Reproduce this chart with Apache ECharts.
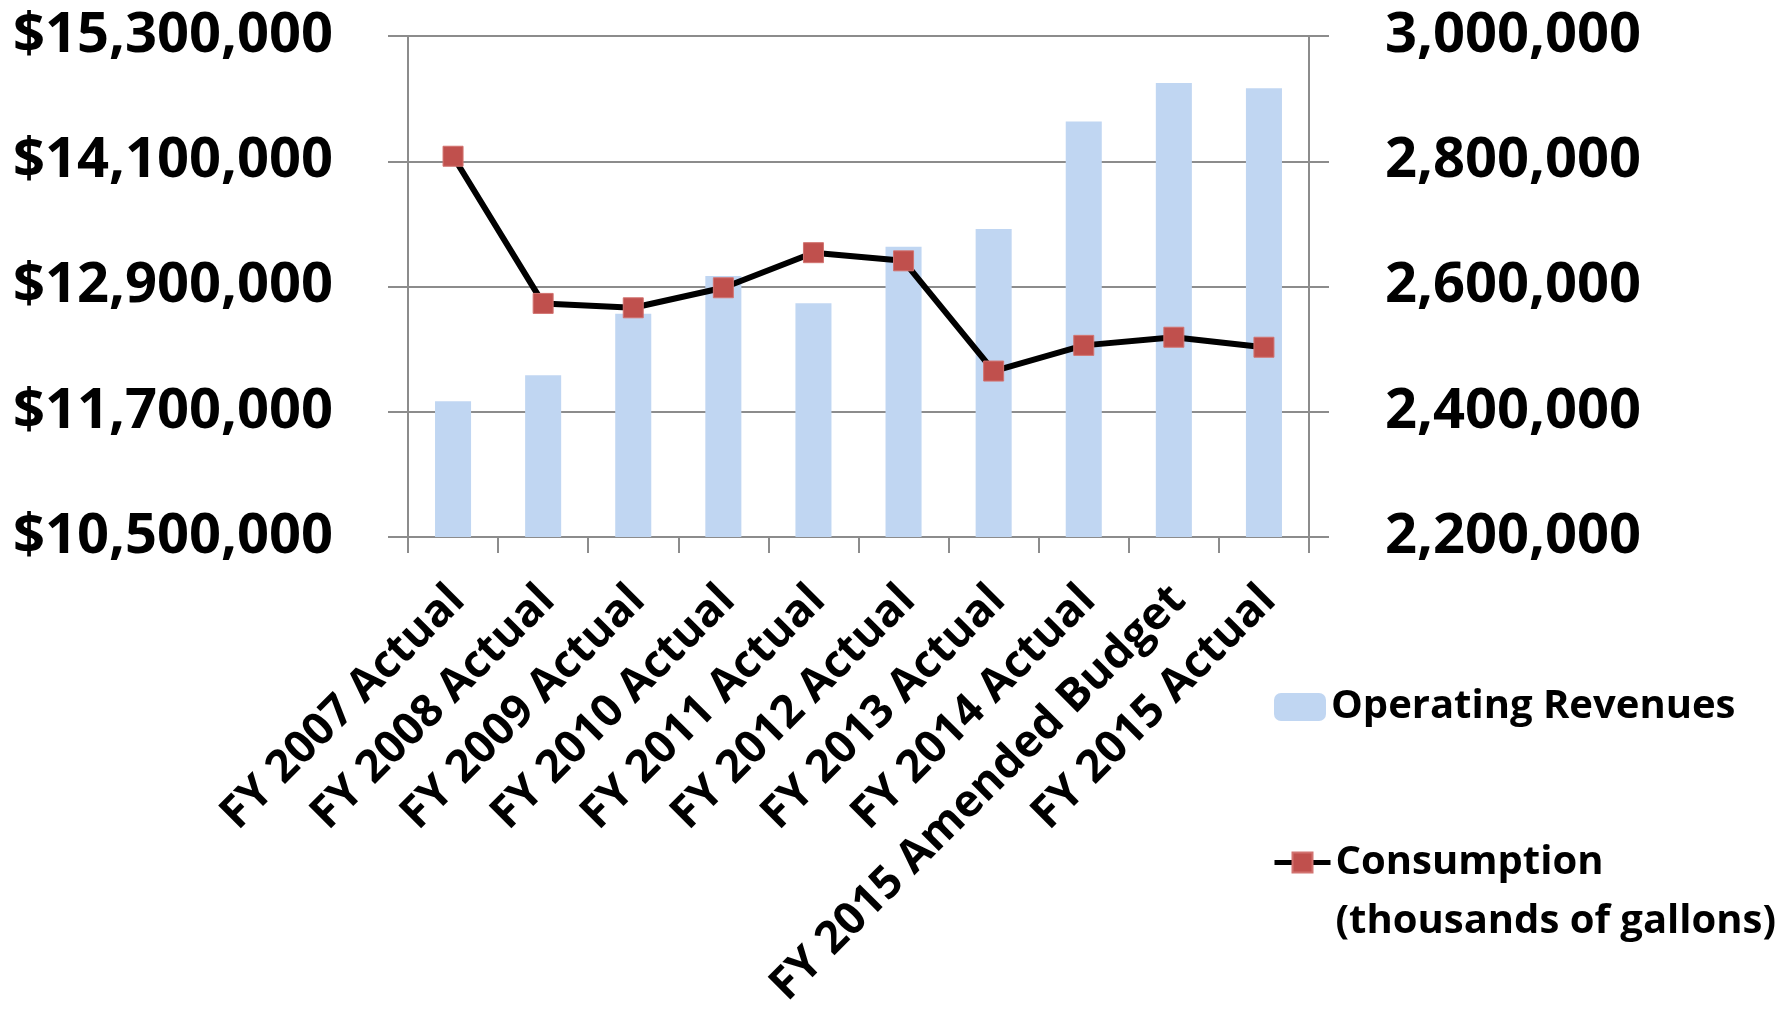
<!DOCTYPE html>
<html>
<head>
<meta charset="utf-8">
<script src="https://cdn.jsdelivr.net/npm/echarts@6/dist/echarts.min.js"></script>
<style>
  html, body { margin: 0; padding: 0; background: #ffffff; }
  #chart { width: 1783px; height: 1031px; }
</style>
</head>
<body>
<div id="chart"></div>
<script>
// Fiscal years shown along the bottom axis
const categories = [
  'FY 2007 Actual', 'FY 2008 Actual', 'FY 2009 Actual', 'FY 2010 Actual',
  'FY 2011 Actual', 'FY 2012 Actual', 'FY 2013 Actual', 'FY 2014 Actual',
  'FY 2015 Amended Budget', 'FY 2015 Actual'
];

// Operating revenues in dollars (left axis)
const operatingRevenues = [
  11800000, 12050000, 12640000, 13000000, 12740000,
  13280000, 13450000, 14480000, 14850000, 14800000
];

// Water consumption in thousands of gallons (right axis)
const consumption = [
  2808000, 2573000, 2566000, 2598000, 2654000,
  2641000, 2465000, 2506000, 2519000, 2503000
];

// Axis ranges and tick steps
const revenueAxis = { min: 10500000, max: 15300000, step: 1200000 };
const consumptionAxis = { min: 2200000, max: 3000000, step: 200000 };

const FONT = 'Open Sans';
const GRID_GRAY = '#8c8c8c';

const fmt = v => Math.round(v).toLocaleString('en-US');

const chart = echarts.init(document.getElementById('chart'), null, { renderer: 'canvas' });

chart.setOption({
  animation: false,
  backgroundColor: '#ffffff',
  grid: {
    left: 408, right: 474, top: 36, bottom: 494,
    containLabel: false,
    outerBoundsMode: 'none'
  },
  legend: [
    {
      data: ['Operating Revenues'],
      orient: 'vertical',
      left: 1274,
      top: 679,
      padding: 0,
      itemWidth: 52,
      itemHeight: 28,
      itemGap: 0,
      selectedMode: false,
      textStyle: { fontFamily: FONT, fontWeight: 'bold', fontSize: 40, color: '#000', lineHeight: 56 }
    },
    {
      data: ['Consumption\n(thousands of gallons)'],
      orient: 'vertical',
      left: 1272,
      top: 774,
      padding: 0,
      itemWidth: 56,
      itemHeight: 25,
      itemGap: 0,
      selectedMode: false,
      // a blank first row keeps the icon level with the first text row
      formatter: name => ' \n' + name,
      lineStyle: { color: '#000000', width: 5 },
      textStyle: {
        fontFamily: FONT, fontWeight: 'bold', fontSize: 40, color: '#000',
        lineHeight: 59
      }
    }
  ],
  xAxis: {
    type: 'category',
    data: categories,
    boundaryGap: true,
    axisLine: { show: true, lineStyle: { color: GRID_GRAY, width: 2 } },
    axisTick: { show: true, length: 16, alignWithLabel: false, lineStyle: { color: GRID_GRAY, width: 2 } },
    axisLabel: {
      interval: 0,
      rotate: 45,
      margin: 29,
      padding: [0, 16, 0, 0],
      verticalAlign: 'top',
      fontFamily: FONT,
      fontWeight: 'bold',
      fontSize: 45,
      color: '#000'
    },
    splitLine: { show: false }
  },
  yAxis: [
    {
      type: 'value',
      position: 'left',
      min: revenueAxis.min,
      max: revenueAxis.max,
      interval: revenueAxis.step,
      axisLine: { show: true, lineStyle: { color: GRID_GRAY, width: 2 } },
      axisTick: { show: true, length: 20, lineStyle: { color: GRID_GRAY, width: 2 } },
      splitLine: { show: true, lineStyle: { color: GRID_GRAY, width: 2 } },
      axisLabel: {
        margin: 75,
        fontFamily: FONT,
        fontWeight: 'bold',
        fontSize: 56,
        color: '#000',
        formatter: v => '$' + fmt(v)
      }
    },
    {
      type: 'value',
      position: 'right',
      min: consumptionAxis.min,
      max: consumptionAxis.max,
      interval: consumptionAxis.step,
      axisLine: { show: true, lineStyle: { color: GRID_GRAY, width: 2 } },
      axisTick: { show: true, length: 20, lineStyle: { color: GRID_GRAY, width: 2 } },
      splitLine: { show: false },
      axisLabel: {
        margin: 76,
        fontFamily: FONT,
        fontWeight: 'bold',
        fontSize: 56,
        color: '#000',
        formatter: v => fmt(v)
      }
    }
  ],
  series: [
    {
      name: 'Operating Revenues',
      type: 'bar',
      yAxisIndex: 0,
      data: operatingRevenues,
      barWidth: '40%',
      itemStyle: { color: '#C0D6F2' }
    },
    {
      name: 'Consumption\n(thousands of gallons)',
      type: 'line',
      yAxisIndex: 1,
      data: consumption,
      symbol: 'rect',
      symbolSize: 20,
      lineStyle: { color: '#000000', width: 6 },
      itemStyle: { color: '#C0504D', borderColor: '#d27370', borderWidth: 1 },
      z: 3
    }
  ]
});
</script>
</body>
</html>
